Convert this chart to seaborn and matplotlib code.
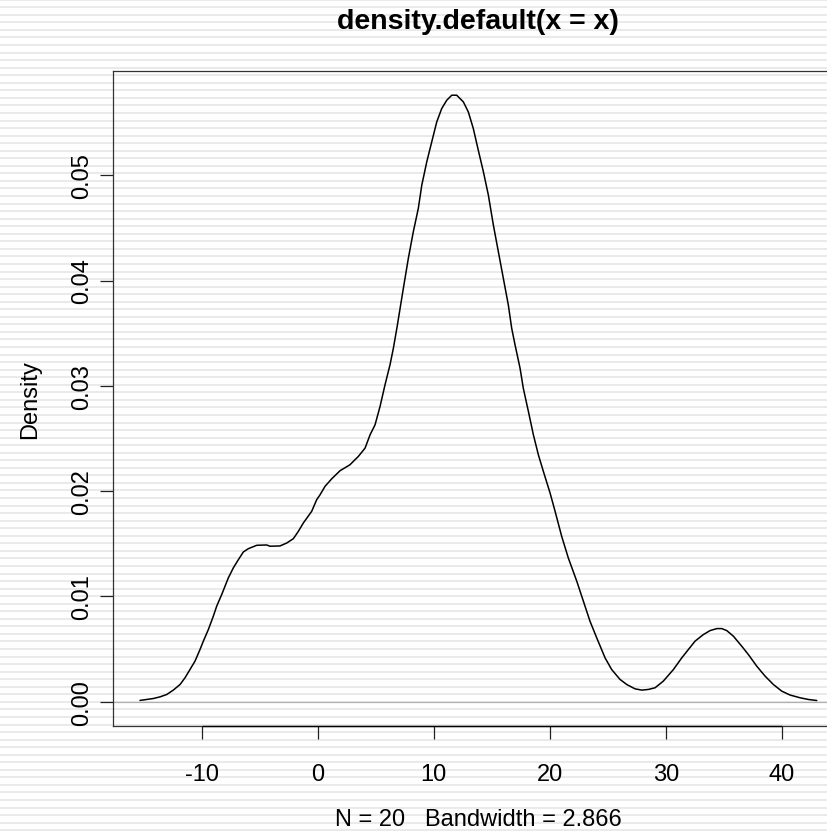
import numpy as np
import pandas as pd
import matplotlib
matplotlib.use("Agg")
import matplotlib.pyplot as plt
import seaborn as sns

# Kernel density estimate of x (N = 20, bandwidth 2.866), sampled along the curve
density_x = [-15.32, -14.74, -14.17, -13.59, -13.02, -12.45, -11.87, -11.44, -11.01,
             -10.58, -10.15, -9.86, -9.43, -9.00, -8.71, -8.28, -7.71, -7.28, -6.84,
             -6.41, -5.98, -5.26, -4.40, -4.11, -3.25, -2.67, -2.10, -1.67, -1.24,
             -0.52, -0.09, 0.20, 0.63, 1.21, 1.92, 2.78, 3.50, 4.08, 4.51, 4.94,
             5.37, 5.80, 6.23, 6.52, 6.84, 7.38, 7.81, 8.24, 8.67, 8.97, 9.40, 9.83,
             10.26, 10.69, 11.12, 11.55, 11.98, 12.55, 12.98, 13.41, 13.84, 14.28,
             14.71, 15.14, 15.57, 16.00, 16.43, 16.72, 17.01, 17.44, 17.72, 18.16,
             18.59, 19.02, 19.45, 19.74, 20.03, 20.46, 21.03, 21.60, 22.33, 22.90,
             23.47, 24.05, 24.77, 25.34, 26.06, 26.64, 27.35, 27.93, 28.50, 29.08,
             29.79, 30.66, 31.38, 31.95, 32.53, 33.24, 33.82, 34.40, 34.83, 35.26,
             35.83, 36.55, 37.12, 37.84, 38.56, 39.28, 40.00, 40.72, 41.58, 42.29,
             43.02]
density_y = [0.00013, 0.00022, 0.00031, 0.00047, 0.00069, 0.00111, 0.00164, 0.00228,
             0.00307, 0.00386, 0.00496, 0.00576, 0.00686, 0.00813, 0.00908, 0.01018,
             0.01176, 0.01271, 0.01350, 0.01423, 0.01454, 0.01486, 0.01489, 0.01477,
             0.01480, 0.01508, 0.01549, 0.01619, 0.01698, 0.01809, 0.01919, 0.01966,
             0.02046, 0.02118, 0.02194, 0.02251, 0.02330, 0.02409, 0.02535, 0.02630,
             0.02804, 0.03010, 0.03200, 0.03357, 0.03560, 0.03926, 0.04211, 0.04464,
             0.04685, 0.04906, 0.05128, 0.05318, 0.05507, 0.05634, 0.05712, 0.05760,
             0.05760, 0.05697, 0.05602, 0.05444, 0.05238, 0.05033, 0.04811, 0.04527,
             0.04274, 0.04021, 0.03768, 0.03547, 0.03389, 0.03168, 0.02978, 0.02757,
             0.02535, 0.02345, 0.02188, 0.02085, 0.01982, 0.01809, 0.01571, 0.01366,
             0.01145, 0.00955, 0.00765, 0.00607, 0.00417, 0.00306, 0.00212, 0.00164,
             0.00123, 0.00111, 0.00117, 0.00133, 0.00196, 0.00306, 0.00417, 0.00496,
             0.00576, 0.00638, 0.00676, 0.00695, 0.00695, 0.00676, 0.00623, 0.00528,
             0.00449, 0.00339, 0.00244, 0.00164, 0.00101, 0.00064, 0.00038, 0.00022,
             0.00012]

x_ticks = [-10, 0, 10, 20, 30, 40]
y_ticks = [0.00, 0.01, 0.02, 0.03, 0.04, 0.05]
y_tick_labels = ["0.00", "0.01", "0.02", "0.03", "0.04", "0.05"]

title_text = "density.default(x = x)"
x_label = "N = 20   Bandwidth = 2.866"
y_label = "Density"

sns.set_style("white")
plt.rcParams["font.family"] = ["Liberation Sans", "DejaVu Sans"]
plt.rcParams["text.color"] = "black"
plt.rcParams["axes.labelcolor"] = "black"
plt.rcParams["xtick.color"] = "black"
plt.rcParams["ytick.color"] = "black"

W, H = 828, 837
fig = plt.figure(figsize=(W / 100, H / 100), dpi=100)
fig.patch.set_facecolor("white")

# striped page background
bg = fig.add_axes([0, 0, 1, 1], zorder=0)
bg.set_xlim(0, W)
bg.set_ylim(H, 0)
bg.axis("off")
stripe_y = np.arange(0.7, H + 8, 7.55)
bg.hlines(stripe_y, 0, W, colors="#e4e4e4", linewidth=1.1)

# plotting region (right edge runs past the page)
left_px, right_px, top_px, bottom_px = 113, 843.8, 72, 727
ax = fig.add_axes([left_px / W, (H - bottom_px) / H,
                   (right_px - left_px) / W, (bottom_px - top_px) / H], zorder=1)
ax.patch.set_alpha(0)

df = pd.DataFrame({"x": density_x, "y": density_y})
ax.axhline(0, color="#b0b0b0", linewidth=0.9, zorder=1)
sns.lineplot(data=df, x="x", y="y", ax=ax, color="black", linewidth=1.1,
             sort=False, estimator=None, zorder=2)

ax.set_xlim(-17.65, 45.35)
ax.set_ylim(-0.0023, 0.0599)

for side in ["left", "top", "bottom"]:
    ax.spines[side].set_visible(True)
    ax.spines[side].set_color("#333333")
    ax.spines[side].set_linewidth(0.9)
ax.spines["right"].set_visible(False)

# axis line spanning the labelled ticks
ax.plot([x_ticks[0], x_ticks[-1]], [-0.0023, -0.0023], color="black",
        linewidth=1.0, clip_on=False, zorder=3, solid_capstyle="butt")

ax.set_xticks(x_ticks)
ax.set_xticklabels([str(t) for t in x_ticks])
ax.set_yticks(y_ticks)
ax.set_yticklabels(y_tick_labels)
ax.tick_params(axis="both", direction="out", length=9.4, width=0.9, color="#222222",
               labelsize=17, labelcolor="black")
ax.tick_params(axis="x", pad=17.5, bottom=True)
ax.tick_params(axis="y", pad=5, left=True, labelrotation=90)
for lab in ax.get_yticklabels():
    lab.set_va("center")

fig.text(478.4 / W, 1 - 22 / H, title_text, fontsize=20.5, fontweight="bold",
         ha="center", va="center")

ax.set_xlabel(x_label, fontsize=17)
ax.xaxis.set_label_coords(0.5, (bottom_px - 820) / (bottom_px - top_px))
ax.xaxis.label.set_va("center")
ax.set_ylabel(y_label, fontsize=17)
ax.yaxis.set_label_coords((30 - left_px) / (right_px - left_px), 0.5)
ax.yaxis.label.set_va("center")

ax.grid(False)
fig.savefig("out.png", dpi=100, facecolor="white")
